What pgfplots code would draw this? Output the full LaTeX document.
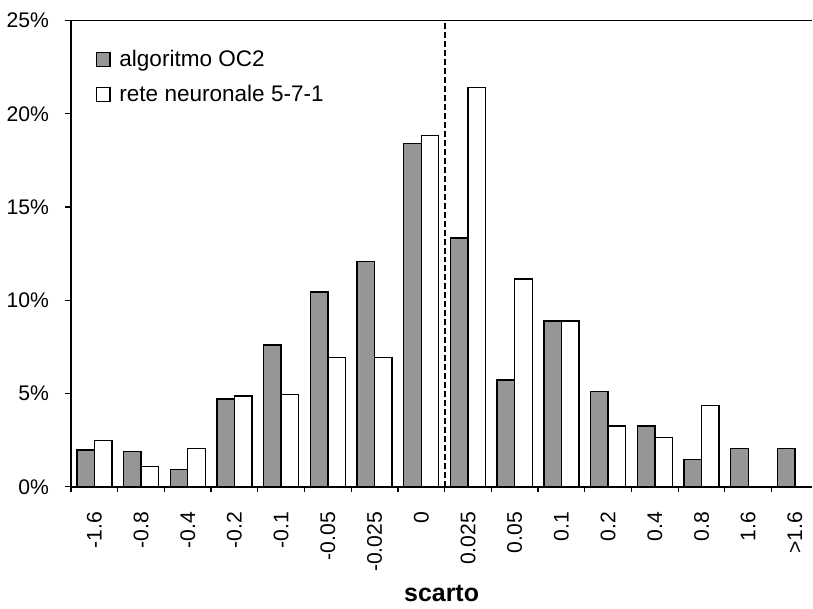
\documentclass[border=0pt]{standalone}
\usepackage{fontspec}
\setmainfont{Liberation Sans}
\usepackage{pgfplots}
\pgfplotsset{compat=1.18}
\definecolor{barGray}{RGB}{150,150,150}
\begin{document}
\begin{tikzpicture}
\begin{axis}[
width=371.6pt,
height=233.8pt,
scale only axis,
xmin=-0.5, xmax=15.37,
ymin=0, ymax=25,
axis x line=box,
axis y line=left,
axis line style={-, line width=0.8pt},
ybar=0pt,
bar width=0.375,
xtick={0,...,15},
xticklabels={-1.6,-0.8,-0.4,-0.2,-0.1,-0.05,-0.025,0,0.025,0.05,0.1,0.2,0.4,0.8,1.6,>1.6},
minor xtick={-0.5,0.5,...,14.5},
major x tick style={draw=none},
minor x tick style={black, line width=0.6pt},
xtick pos=bottom,
ytick={0,5,...,25},
ytick pos=left,
y tick style={black, line width=0.6pt},
tick align=outside,
major tick length=3pt,
minor tick length=2.5pt,
/pgf/number format/assume math mode=true,
yticklabel={\pgfmathprintnumber{\tick}\%},
tick label style={font=\fontsize{10.6}{12}\selectfont},
xticklabel style={rotate=90, anchor=east},
xticklabel shift=6pt,
yticklabel shift=4.5pt,
xlabel={\textbf{scarto}},
xlabel style={font=\fontsize{12.5}{14}\selectfont},
legend cell align=left,
legend style={draw=none, fill=none, at={(rel axis cs:0.025,0.955)}, anchor=north west,
  font=\fontsize{11.3}{13}\selectfont, row sep=4pt},
legend image code/.code={\draw[#1, line width=0.6pt] (0pt,-3.3pt) rectangle (6.8pt,3.5pt);
  \path[draw=none, fill=none] (0pt,0pt) -- (9.5pt,0pt);},
]
\addplot[fill=barGray, draw=black, line width=0.7pt] coordinates {
(0,1.98) (1,1.89) (2,0.94) (3,4.71) (4,7.61) (5,10.44) (6,12.09) (7,18.41)
(8,13.35) (9,5.74) (10,8.89) (11,5.13) (12,3.26) (13,1.46) (14,2.05) (15,2.05)
};
\addlegendentry{algoritmo OC2}
\addplot[fill=white, draw=black, line width=0.7pt] coordinates {
(0,2.48) (1,1.10) (2,2.05) (3,4.88) (4,4.95) (5,6.93) (6,6.93) (7,18.84)
(8,21.41) (9,11.14) (10,8.89) (11,3.26) (12,2.65) (13,4.36)
};
\addlegendentry{rete neuronale 5-7-1}
\addplot[sharp plot, black, line width=1pt, dash pattern=on 3pt off 1.5pt, forget plot]
coordinates {(7.5,0) (7.5,25)};
\end{axis}
\path (current axis.north west) ++(0pt,10.3pt);
\end{tikzpicture}
\end{document}
